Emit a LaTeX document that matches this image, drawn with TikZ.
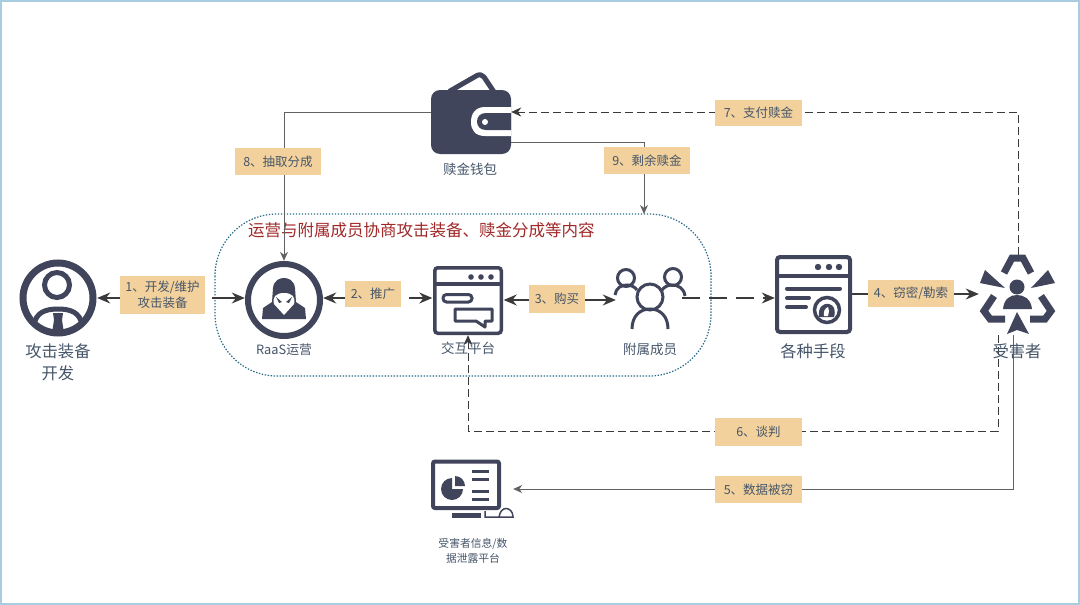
\documentclass[tikz,border=0pt]{standalone}
\usepackage{fontspec}
\setmainfont{Noto Sans CJK SC}
\usetikzlibrary{arrows.meta,calc}
\definecolor{icon}{HTML}{41455B}
\definecolor{lab}{HTML}{F3D19C}
\definecolor{txt}{HTML}{46566A}
\definecolor{ln}{HTML}{3A3A3A}
\definecolor{tealb}{HTML}{2A6A8A}
\definecolor{red2}{HTML}{A02828}
\definecolor{frame}{HTML}{A8CDE0}
\tikzset{
  lbl/.style={fill=lab,text=txt,font=\fontsize{12.5}{15.5}\selectfont,align=center,inner sep=0pt,anchor=center},
  captxt/.style={text=txt,align=center,inner sep=0pt},
  conn/.style={draw=ln!80,line width=0.8pt},
  thick arrow/.style={draw=ln,line width=1.5pt,-{Stealth[length=13pt,width=11pt]}},
  thin arrow/.style={draw=ln!80,line width=0.8pt,-{Stealth[length=9pt,width=8pt]}},
  dash arrow/.style={draw=ln,line width=0.9pt,dash pattern=on 8pt off 4pt,-{Stealth[length=10pt,width=9pt]}},
  stroke/.style={draw=icon,line width=#1,fill=none}
}
\begin{document}
\begin{tikzpicture}[x=1pt,y=-1pt]
\useasboundingbox (0,0) rectangle (1080,605);
\fill[white] (0,0) rectangle (1080,605);
\draw[frame,line width=2pt] (1,1) rectangle (1079,604);

% group
\draw[tealb,line width=1.2pt,dash pattern=on 1.4pt off 1.6pt,rounded corners=62pt] (215,214) rectangle (711,376);
\node[text=red2,font=\fontsize{16.5}{19}\selectfont,inner sep=0pt,anchor=west] (grouptext) at (248,230) {运营与附属成员协商攻击装备、赎金分成等内容};

% anchor nodes of the icons
\node[circle,minimum size=78pt,inner sep=0pt] (dev) at (58,298) {};
\node[circle,minimum size=78pt,inner sep=0pt] (raas) at (284,300) {};
\node[minimum width=71pt,minimum height=69pt,inner sep=0pt] (plat) at (468,300.5) {};
\node[minimum width=66pt,minimum height=68pt,inner sep=0pt] (aff) at (649,300) {};
\node[minimum width=77pt,minimum height=79pt,inner sep=0pt] (means) at (813.5,294.5) {};
\node[minimum width=76pt,minimum height=80pt,inner sep=0pt] (vic) at (1017,294) {};
\node[minimum width=80pt,minimum height=64pt,inner sep=0pt] (wallet) at (471,122) {};
\node[minimum width=82pt,minimum height=58pt,inner sep=0pt] (mon) at (472,489) {};
\coordinate (groupTop) at (644,214);

% connectors
\draw[conn] (wallet.west |- 0,112) -- (284,112);
\draw[thin arrow] (284,112) -- (raas.north);
\draw[conn] (wallet.east |- 0,142) -- (644,142);
\draw[thin arrow] (644,142) -- (groupTop);
\draw[dash arrow] (1018,255) -- (1018,112) -- (wallet.east |- 0,112);
\draw[dash arrow] (998,335) -- (998,431) -- (468,431) -- (plat.south);
\draw[thin arrow] (1013,335) -- (1013,489) -- (mon.east |- 0,489);
\draw[draw=ln,line width=1.5pt,dash pattern=on 18pt off 9pt,-{Stealth[length=13pt,width=11pt]}] (aff.east |- 0,298) -- (means.west |- 0,298);

% labels with their arrows
\node[lbl,minimum width=85pt,minimum height=38pt] (l1) at (162.5,295) {1、开发/维护\\攻击装备};
\node[lbl,minimum width=56pt,minimum height=26pt] (l2) at (373,294) {2、推广};
\node[lbl,minimum width=56pt,minimum height=28pt] (l3) at (557,299) {3、购买};
\node[lbl,minimum width=86pt,minimum height=27pt] (l4) at (911,293.5) {4、窃密/勒索};
\node[lbl,minimum width=87pt,minimum height=27pt] (l5) at (758.5,489.5) {5、数据被窃};
\node[lbl,minimum width=87pt,minimum height=28pt] (l6) at (758.5,432) {6、谈判};
\node[lbl,minimum width=87pt,minimum height=26pt] (l7) at (758.5,113) {7、支付赎金};
\node[lbl,minimum width=86pt,minimum height=27pt] (l8) at (278,161.5) {8、抽取分成};
\node[lbl,minimum width=86pt,minimum height=27pt] (l9) at (647,160.5) {9、剩余赎金};

\draw[thick arrow] (l1.west |- 0,298) -- (dev.east |- 0,298);
\draw[thick arrow,shorten <=7pt] (l1.east |- 0,298) -- (raas.west |- 0,298);
\draw[thick arrow] (l2.west |- 0,298) -- (raas.east |- 0,298);
\draw[thick arrow,shorten <=8pt] (l2.east |- 0,298) -- (plat.west |- 0,298);
\draw[thick arrow] (l3.west |- 0,300) -- (plat.east |- 0,300);
\draw[thick arrow] (l3.east |- 0,300) -- (aff.west |- 0,300);
\draw[draw=ln,line width=1.5pt] (means.east |- 0,294) -- (l4.west |- 0,294);
\draw[thick arrow] (l4.east |- 0,294) -- (vic.west |- 0,294);

% developer icon
\draw[stroke=7pt] (58,298) circle (35);
\draw[stroke=5pt] (57,285) circle (12.5);
\begin{scope}
\clip (58,298) circle (35);
\draw[stroke=5pt] (34,325) .. controls (36,312) and (46,309) .. (58,309) .. controls (70,309) and (80,312) .. (82,325);
\fill[icon] (53,313) -- (63,313) -- (62,320) -- (65,340) -- (51,340) -- (54,320) -- cycle;
\end{scope}

% RaaS icon
\draw[stroke=6pt] (284,300) circle (36);
\fill[icon] (262,319) -- (263,308) -- (272,302) -- (273,288) .. controls (274,280) and (280,278) .. (284,278) .. controls (288,278) and (294,280) .. (295,288) -- (296,302) -- (305,308) -- (306,319) -- cycle;
\fill[white] (284,315) -- (274,304) .. controls (272,297) and (276,293) .. (284,293) .. controls (292,293) and (296,297) .. (294,304) -- cycle;
\fill[icon] (276,297) -- (282,302) -- (279,303) -- cycle;
\fill[icon] (292,297) -- (286,302) -- (289,303) -- cycle;

% platform icon
\draw[stroke=3.5pt,rounded corners=3pt] (434.75,267.75) rectangle (501.25,333.25);
\draw[stroke=3.5pt] (434.75,284) -- (501.25,284);
\foreach \x in {471,481,491} \fill[icon] (\x,277) circle (2.8);
\draw[stroke=3pt,rounded corners=3.5pt] (443,294.5) rectangle (472,302);
\draw[stroke=3pt,line join=round] (455,309) -- (492,309) -- (492,321) -- (485,321) -- (485,327) -- (476,321) -- (455,321) -- cycle;

% affiliates icon
\draw[stroke=3pt] (650,297) circle (13);
\draw[stroke=3pt] (632,329) .. controls (632,316) and (640,309) .. (650,309) .. controls (660,309) and (668,316) .. (668,329);
\draw[stroke=3pt] (626,278) circle (8.5);
\draw[stroke=3pt] (615,295) .. controls (616,288) and (621,285) .. (627,285) .. controls (631,285) and (635,287) .. (637,290);
\draw[stroke=3pt] (673,277) circle (8.5);
\draw[stroke=3pt] (662,290) .. controls (664,287) and (668,285) .. (672,285) .. controls (678,285) and (684,288) .. (685,296);

% means icon
\draw[stroke=4pt,rounded corners=3pt] (777,257) rectangle (850,332);
\draw[stroke=4pt] (777,276) -- (850,276);
\foreach \x in {818,829,839} \fill[icon] (\x,267) circle (3.2);
\draw[stroke=4pt,line cap=round] (787,288.5) -- (840,288.5);
\draw[stroke=4pt,line cap=round] (787,298) -- (809,298);
\draw[stroke=4pt,line cap=round] (787,307) -- (806,307);
\fill[white] (827,310) circle (14);
\draw[stroke=3.5pt] (827,310) circle (12.5);
\fill[icon] (819,317) .. controls (818,308) and (822,303) .. (829,304) .. controls (834,305) and (836,310) .. (834,317) -- cycle;
\fill[white] (824,316) .. controls (823,312) and (825,308) .. (828,307) -- (829,311) -- (828,316) -- cycle;

% victim icon
\fill[icon] (1017,287) circle (7.5);
\fill[icon] (1003,309) .. controls (1004,299) and (1010,295) .. (1017,295) .. controls (1024,295) and (1031,299) .. (1032,309) -- cycle;
\draw[stroke=7pt] (1004,273) -- (1012,258) -- (1023,258) -- (1031,273);
\fill[icon] (985,270) -- (1005,288) -- (980,283) -- cycle;
\fill[icon] (1048,270) -- (1055,283) -- (1031,288) -- cycle;
\draw[stroke=7pt] (994,296) -- (984,311) -- (990,319) -- (1005,319);
\draw[stroke=7pt] (1041,296) -- (1051,311) -- (1045,319) -- (1030,319);
\fill[icon] (1017,312) -- (1029,334) -- (1017,330) -- (1007,334) -- cycle;

% wallet icon
\draw[stroke=5pt,line join=round,line cap=round] (450,91) -- (477,75.5) .. controls (480,74) and (482,75) .. (484,77) -- (494,92);
\fill[icon,rounded corners=9pt] (431,90) rectangle (511,154);
\fill[white] (511,107) -- (485,107) .. controls (475,107) and (471,114) .. (471,122) .. controls (471,130) and (475,136) .. (485,136) -- (511,136) -- cycle;
\fill[icon] (511,113) -- (486,113) .. controls (480,113) and (477,117) .. (477,121.5) .. controls (477,126) and (480,130) .. (486,130) -- (511,130) -- cycle;
\fill[white] (485,122) circle (3);

% monitor icon
\draw[stroke=4pt,rounded corners=2pt] (433,461.5) rectangle (499,508);
\fill[icon] (452,478) arc (-90:-360:11) -- (452,489) -- cycle;
\fill[icon] (455,476) -- (455,486) -- (465,486) arc (0:-90:10) -- cycle;
\foreach \y in {472,480,492,500} \fill[icon] (472,\y-2.5) rectangle (489,\y+1);
\fill[icon] (452,513) rectangle (481,518);
\draw[stroke=1.5pt] (485,511) -- (485,517) -- (513,517) .. controls (513,511) and (509,508.5) .. (506,508.5) .. controls (503,508.5) and (500,511) .. (499,517);

% captions
\node[captxt,font=\fontsize{16.3}{22}\selectfont] (c1) at (58,362) {攻击装备\\开发};
\node[captxt,font=\fontsize{12.8}{14}\selectfont] (c2) at (284,350) {RaaS运营};
\node[captxt,font=\fontsize{13.5}{15}\selectfont] (c3) at (468,348) {交互平台};
\node[captxt,font=\fontsize{13.5}{15}\selectfont] (c4) at (650,349) {附属成员};
\node[captxt,font=\fontsize{16.3}{18}\selectfont] (c5) at (813,351) {各种手段};
\node[captxt,font=\fontsize{16.3}{18}\selectfont] (c6) at (1017,351) {受害者};
\node[captxt,font=\fontsize{13.5}{15}\selectfont] (c7) at (470,169) {赎金钱包};
\node[captxt,font=\fontsize{10.8}{15}\selectfont] (c8) at (473,551) {受害者信息/数\\据泄露平台};
\end{tikzpicture}
\end{document}
